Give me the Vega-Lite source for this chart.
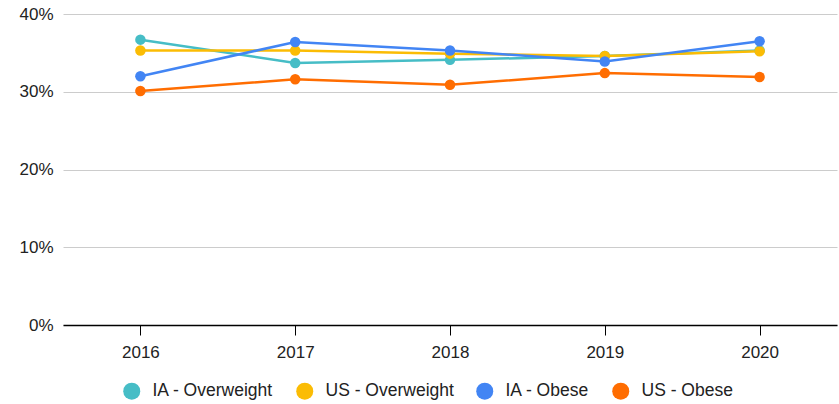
{
  "$schema": "https://vega.github.io/schema/vega-lite/v6.json",
  "width": 774,
  "height": 311,
  "padding": {"left": 63, "top": 14, "right": 2, "bottom": 79},
  "autosize": {"type": "none"},
  "background": "white",
  "config": {
    "view": {"stroke": null},
    "font": "Liberation Sans",
    "axis": {"labelFont": "Liberation Sans", "labelColor": "#222222", "labelFontSize": 17}
  },
  "data": {
    "values": [
      {"year": "2016", "series": "IA - Overweight", "value": 0.367},
      {"year": "2017", "series": "IA - Overweight", "value": 0.337},
      {"year": "2018", "series": "IA - Overweight", "value": 0.341},
      {"year": "2019", "series": "IA - Overweight", "value": 0.346},
      {"year": "2020", "series": "IA - Overweight", "value": 0.353},
      {"year": "2016", "series": "US - Overweight", "value": 0.353},
      {"year": "2017", "series": "US - Overweight", "value": 0.353},
      {"year": "2018", "series": "US - Overweight", "value": 0.349},
      {"year": "2019", "series": "US - Overweight", "value": 0.346},
      {"year": "2020", "series": "US - Overweight", "value": 0.352},
      {"year": "2016", "series": "IA - Obese", "value": 0.320},
      {"year": "2017", "series": "IA - Obese", "value": 0.364},
      {"year": "2018", "series": "IA - Obese", "value": 0.353},
      {"year": "2019", "series": "IA - Obese", "value": 0.339},
      {"year": "2020", "series": "IA - Obese", "value": 0.365},
      {"year": "2016", "series": "US - Obese", "value": 0.301},
      {"year": "2017", "series": "US - Obese", "value": 0.316},
      {"year": "2018", "series": "US - Obese", "value": 0.309},
      {"year": "2019", "series": "US - Obese", "value": 0.324},
      {"year": "2020", "series": "US - Obese", "value": 0.319}
    ]
  },
  "mark": {"type": "line", "strokeWidth": 2.5, "point": {"filled": true, "size": 110, "opacity": 1}},
  "encoding": {
    "x": {
      "field": "year",
      "type": "ordinal",
      "scale": {"type": "point", "padding": 0.5},
      "axis": {"title": null, "labelAngle": 0, "domainColor": "#000000", "domainWidth": 1.5, "tickColor": "#000000", "tickSize": 10, "labelPadding": 9, "grid": false}
    },
    "y": {
      "field": "value",
      "type": "quantitative",
      "scale": {"domain": [0, 0.4], "nice": false},
      "axis": {"title": null, "format": ".0%", "values": [0, 0.1, 0.2, 0.3, 0.4], "domain": false, "ticks": false, "labelPadding": 10, "gridColor": "#cccccc", "gridWidth": 1}
    },
    "color": {
      "field": "series",
      "type": "nominal",
      "sort": ["IA - Overweight", "US - Overweight", "IA - Obese", "US - Obese"],
      "scale": {"domain": ["IA - Overweight", "US - Overweight", "IA - Obese", "US - Obese"], "range": ["#46bdc6", "#fbbc04", "#4285f4", "#ff6d01"]},
      "legend": {
        "title": null,
        "orient": "none",
        "legendX": 60,
        "legendY": 368,
        "direction": "horizontal",
        "columns": 4,
        "symbolType": "circle",
        "symbolSize": 289,
        "symbolStrokeWidth": 0,
        "labelFontSize": 17.5,
        "labelFont": "Liberation Sans",
        "labelColor": "#222222",
        "labelOffset": 12,
        "columnPadding": 22
      }
    }
  }
}
